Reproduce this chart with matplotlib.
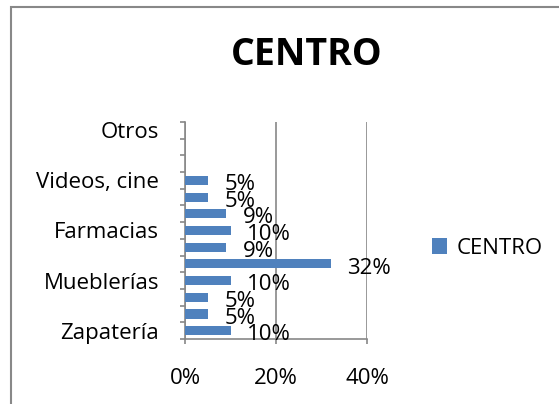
import numpy as np
import matplotlib.pyplot as plt
from matplotlib.patches import Rectangle

# categorias de abajo hacia arriba (solo algunas etiquetas se ven)
categorias = ["Zapatería", "", "", "Mueblerías", "", "", "Farmacias", "", "",
              "Videos, cine", "", "", "Otros"]
valores = [0.10, 0.05, 0.05, 0.10, 0.32, 0.09, 0.10, 0.09, 0.05, 0.05,
           np.nan, np.nan, np.nan]
etiquetas = ["10%", "5%", "5%", "10%", "32%", "9%", "10%", "9%", "5%", "5%",
             "", "", ""]
xticks = [0, 0.2, 0.4]
xticklabels = ["0%", "20%", "40%"]

plt.rcParams['font.family'] = ['Open Sans', 'DejaVu Sans']

fig = plt.figure(figsize=(5.59, 4.04), dpi=100)
W, H = 559, 404
ax = fig.add_axes([185 / W, 1 - 339 / H, (367 - 185) / W, (339 - 122) / H])

gris = "#888888"
fs = 16
y = np.arange(len(categorias))
ax.barh(y, valores, height=0.55, color="#4F81BD", label="CENTRO", zorder=3)

for yi, v, t in zip(y, valores, etiquetas):
    if t:
        ax.annotate(t, (v, yi), xytext=(12, -3), textcoords="offset points",
                    fontsize=fs, va="center", ha="left", zorder=4)

ax.set_xlim(0, 0.4)
ax.set_ylim(-0.5, len(categorias) - 0.5)
ax.set_xticks(xticks)
ax.set_xticklabels(xticklabels, fontsize=fs)
ax.set_yticks(y)
ax.set_yticklabels(categorias, fontsize=fs)
ax.tick_params(axis="y", length=0, pad=18.5)
ax.set_yticks(np.arange(len(categorias) + 1) - 0.5, minor=True)
ax.tick_params(axis="y", which="minor", length=3.6, color=gris, width=1.2)
ax.tick_params(axis="x", length=3.6, color=gris, width=1.2, pad=17)
ax.xaxis.grid(True, color=gris, linewidth=1.2, zorder=0)
for s in ["top", "right"]:
    ax.spines[s].set_visible(False)
for s in ["left", "bottom"]:
    ax.spines[s].set_color(gris)
    ax.spines[s].set_linewidth(1.2)

fig.text(307 / W, 1 - 55 / H, "CENTRO", fontsize=27, fontweight="bold",
         ha="center", va="center")

fig.legend(loc="center left", bbox_to_anchor=(423 / W, 1 - 248 / H),
           frameon=False, fontsize=fs, handlelength=0.7, handleheight=0.7,
           handletextpad=0.4, borderaxespad=0)

fig.patches.append(Rectangle((11 / W, -0.05), 1.0, 1 - 7 / H + 0.05,
                             transform=fig.transFigure, fill=False,
                             edgecolor=gris, linewidth=1.5))

fig.savefig("out.png", dpi=100)
